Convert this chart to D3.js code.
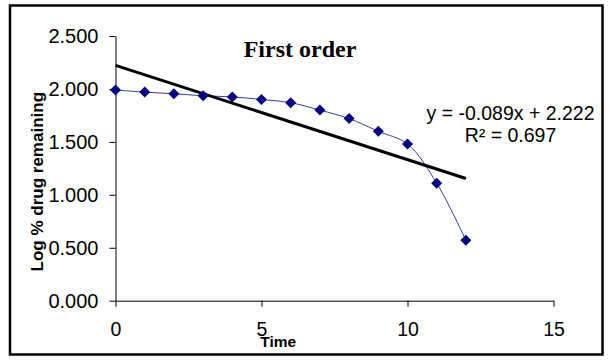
<!DOCTYPE html>
<html>
<head>
<meta charset="utf-8">
<script src="https://cdn.jsdelivr.net/npm/d3@7"></script>
<style>
  body { margin: 0; background: #fff; }
  svg { display: block; }
</style>
</head>
<body>
<svg id="chart" width="614" height="363"></svg>
<script>
// data
var times = [0, 1, 2, 3, 4, 5, 6, 7, 8, 9, 10, 11, 12];
var logRemaining = [1.990, 1.970, 1.955, 1.935, 1.925, 1.900, 1.870, 1.800, 1.720, 1.600, 1.480, 1.110, 0.570];
var xTicks = [0, 5, 10, 15];
var yTicks = [0, 0.5, 1.0, 1.5, 2.0, 2.5];
var trendSlope = -0.089;
var trendIntercept = 2.222;
var trendRange = [0, 12];
var eqLines = ["y = -0.089x + 2.222", "R\u00b2 = 0.697"];

var svg = d3.select("#chart");

var x = d3.scaleLinear().domain([0, 15]).range([115.5, 553.5]);
var y = d3.scaleLinear().domain([0, 2.5]).range([300.7, 36]);

// outer frame
svg.append("rect")
    .attr("x", 10).attr("y", 5.5)
    .attr("width", 592.5).attr("height", 349)
    .attr("fill", "#fff")
    .attr("stroke", "#000")
    .attr("stroke-width", 2.5);

// axes
var xAxis = svg.append("g")
    .attr("transform", "translate(0," + y(0) + ")")
    .call(d3.axisBottom(x).tickValues(xTicks).tickSize(6).tickPadding(15).tickSizeOuter(0));
xAxis.select(".domain").attr("stroke", "#000");
xAxis.selectAll("text")
    .attr("font-family", "Liberation Sans, Arial, sans-serif")
    .attr("font-size", "19.5px")
    .attr("fill", "#000");

var yAxis = svg.append("g")
    .attr("transform", "translate(" + x(0) + ",0)")
    .call(d3.axisLeft(y).tickValues(yTicks).tickSize(6).tickPadding(11)
          .tickFormat(d3.format(".3f")).tickSizeOuter(0));
yAxis.select(".domain").attr("stroke", "#000");
yAxis.selectAll("text")
    .attr("font-family", "Liberation Sans, Arial, sans-serif")
    .attr("font-size", "20px")
    .attr("fill", "#000");

// series line (smoothed like the original)
var line = d3.line()
    .x(function(d, i) { return x(times[i]); })
    .y(function(d) { return y(d); })
    .curve(d3.curveCatmullRom.alpha(0.5));

svg.append("path")
    .datum(logRemaining)
    .attr("fill", "none")
    .attr("stroke", "#3a3aa8")
    .attr("stroke-width", 1)
    .attr("d", line);

// trendline
svg.append("line")
    .attr("x1", x(trendRange[0]))
    .attr("y1", y(trendIntercept + trendSlope * trendRange[0]))
    .attr("x2", x(trendRange[1]))
    .attr("y2", y(trendIntercept + trendSlope * trendRange[1]))
    .attr("stroke", "#000")
    .attr("stroke-width", 3);

// diamond markers
var r = 5.5;
svg.selectAll(".pt")
    .data(logRemaining)
    .enter().append("path")
    .attr("class", "pt")
    .attr("d", function(d, i) {
        var cx = x(times[i]), cy = y(d);
        return "M" + cx + "," + (cy - r) + "L" + (cx + r) + "," + cy +
               "L" + cx + "," + (cy + r) + "L" + (cx - r) + "," + cy + "Z";
    })
    .attr("fill", "#000080");

// title
svg.append("text")
    .attr("x", 300).attr("y", 57.3)
    .attr("text-anchor", "middle")
    .attr("font-family", "Liberation Serif, Times New Roman, serif")
    .attr("font-weight", "bold")
    .attr("font-size", "24px")
    .text("First order");

// equation
svg.selectAll(".eq")
    .data(eqLines)
    .enter().append("text")
    .attr("class", "eq")
    .attr("x", 510.5)
    .attr("y", function(d, i) { return 120 + i * 22.3; })
    .attr("text-anchor", "middle")
    .attr("font-family", "Liberation Sans, Arial, sans-serif")
    .attr("font-size", "19.5px")
    .text(function(d) { return d; });

// axis titles
svg.append("text")
    .attr("x", 278.3).attr("y", 347.3)
    .attr("text-anchor", "middle")
    .attr("font-family", "Liberation Sans, Arial, sans-serif")
    .attr("font-weight", "bold")
    .attr("font-size", "15.5px")
    .text("Time");

svg.append("text")
    .attr("transform", "translate(43.3,181.7) rotate(-90)")
    .attr("text-anchor", "middle")
    .attr("font-family", "Liberation Sans, Arial, sans-serif")
    .attr("font-weight", "bold")
    .attr("font-size", "17px")
    .text("Log % drug remaining");
</script>
</body>
</html>
